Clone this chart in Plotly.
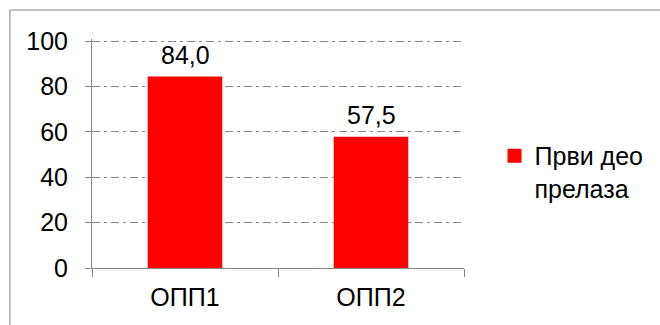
import plotly.graph_objects as go

categories = ["ОПП1", "ОПП2"]
values = [84.0, 57.5]
value_labels = ["84,0", "57,5"]
series_name = "Први део<br>прелаза"
y_ticks = [0, 20, 40, 60, 80, 100]

FONT = "Arial, Liberation Sans, sans-serif"
GRAY = "#868686"
FS = 25

fig = go.Figure()
fig.add_trace(go.Bar(
    x=categories, y=values, name=series_name,
    marker=dict(color="#FF0000", line=dict(width=2, color="#FF0000")),
    width=0.39,
))

for cat, val, lab in zip(categories, values, value_labels):
    fig.add_annotation(x=cat, y=val, text=lab, showarrow=False,
                       xanchor="center", yanchor="bottom", yshift=7,
                       font=dict(size=FS, color="#000000", family=FONT))

fig.update_layout(
    width=660, height=325,
    margin=dict(l=92, r=192, t=39, b=57),
    paper_bgcolor="white", plot_bgcolor="white",
    font=dict(family=FONT, size=FS, color="#000000"),
    showlegend=True,
    legend=dict(x=1.082, y=0.59, xanchor="left", yanchor="top",
                valign="top", font=dict(size=FS), itemwidth=30,
                bgcolor="rgba(0,0,0,0)"),
    xaxis=dict(showline=True, linecolor=GRAY, linewidth=1,
               ticks="outside", tickson="boundaries", ticklen=8,
               tickcolor=GRAY, range=[-0.5, 1.5], showgrid=False,
               tickfont=dict(size=FS), ticklabelstandoff=7),
    yaxis=dict(range=[0, 101], tickvals=y_ticks, showline=True,
               linecolor=GRAY, linewidth=1, ticks="outside", ticklen=6,
               tickcolor=GRAY, showgrid=True, gridcolor=GRAY, gridwidth=1,
               griddash="8px,4px,3px,4px", zeroline=False,
               tickfont=dict(size=FS), ticklabelstandoff=12),
    shapes=[dict(type="rect", xref="paper", yref="paper",
                 x0=-0.2207, x1=1.6, y0=-0.4, y1=1.1266,
                 line=dict(color=GRAY, width=1), fillcolor="rgba(0,0,0,0)",
                 layer="below")],
)

fig.write_html("out.html", post_script="document.body.style.margin='0';",
               config={"displayModeBar": False})
